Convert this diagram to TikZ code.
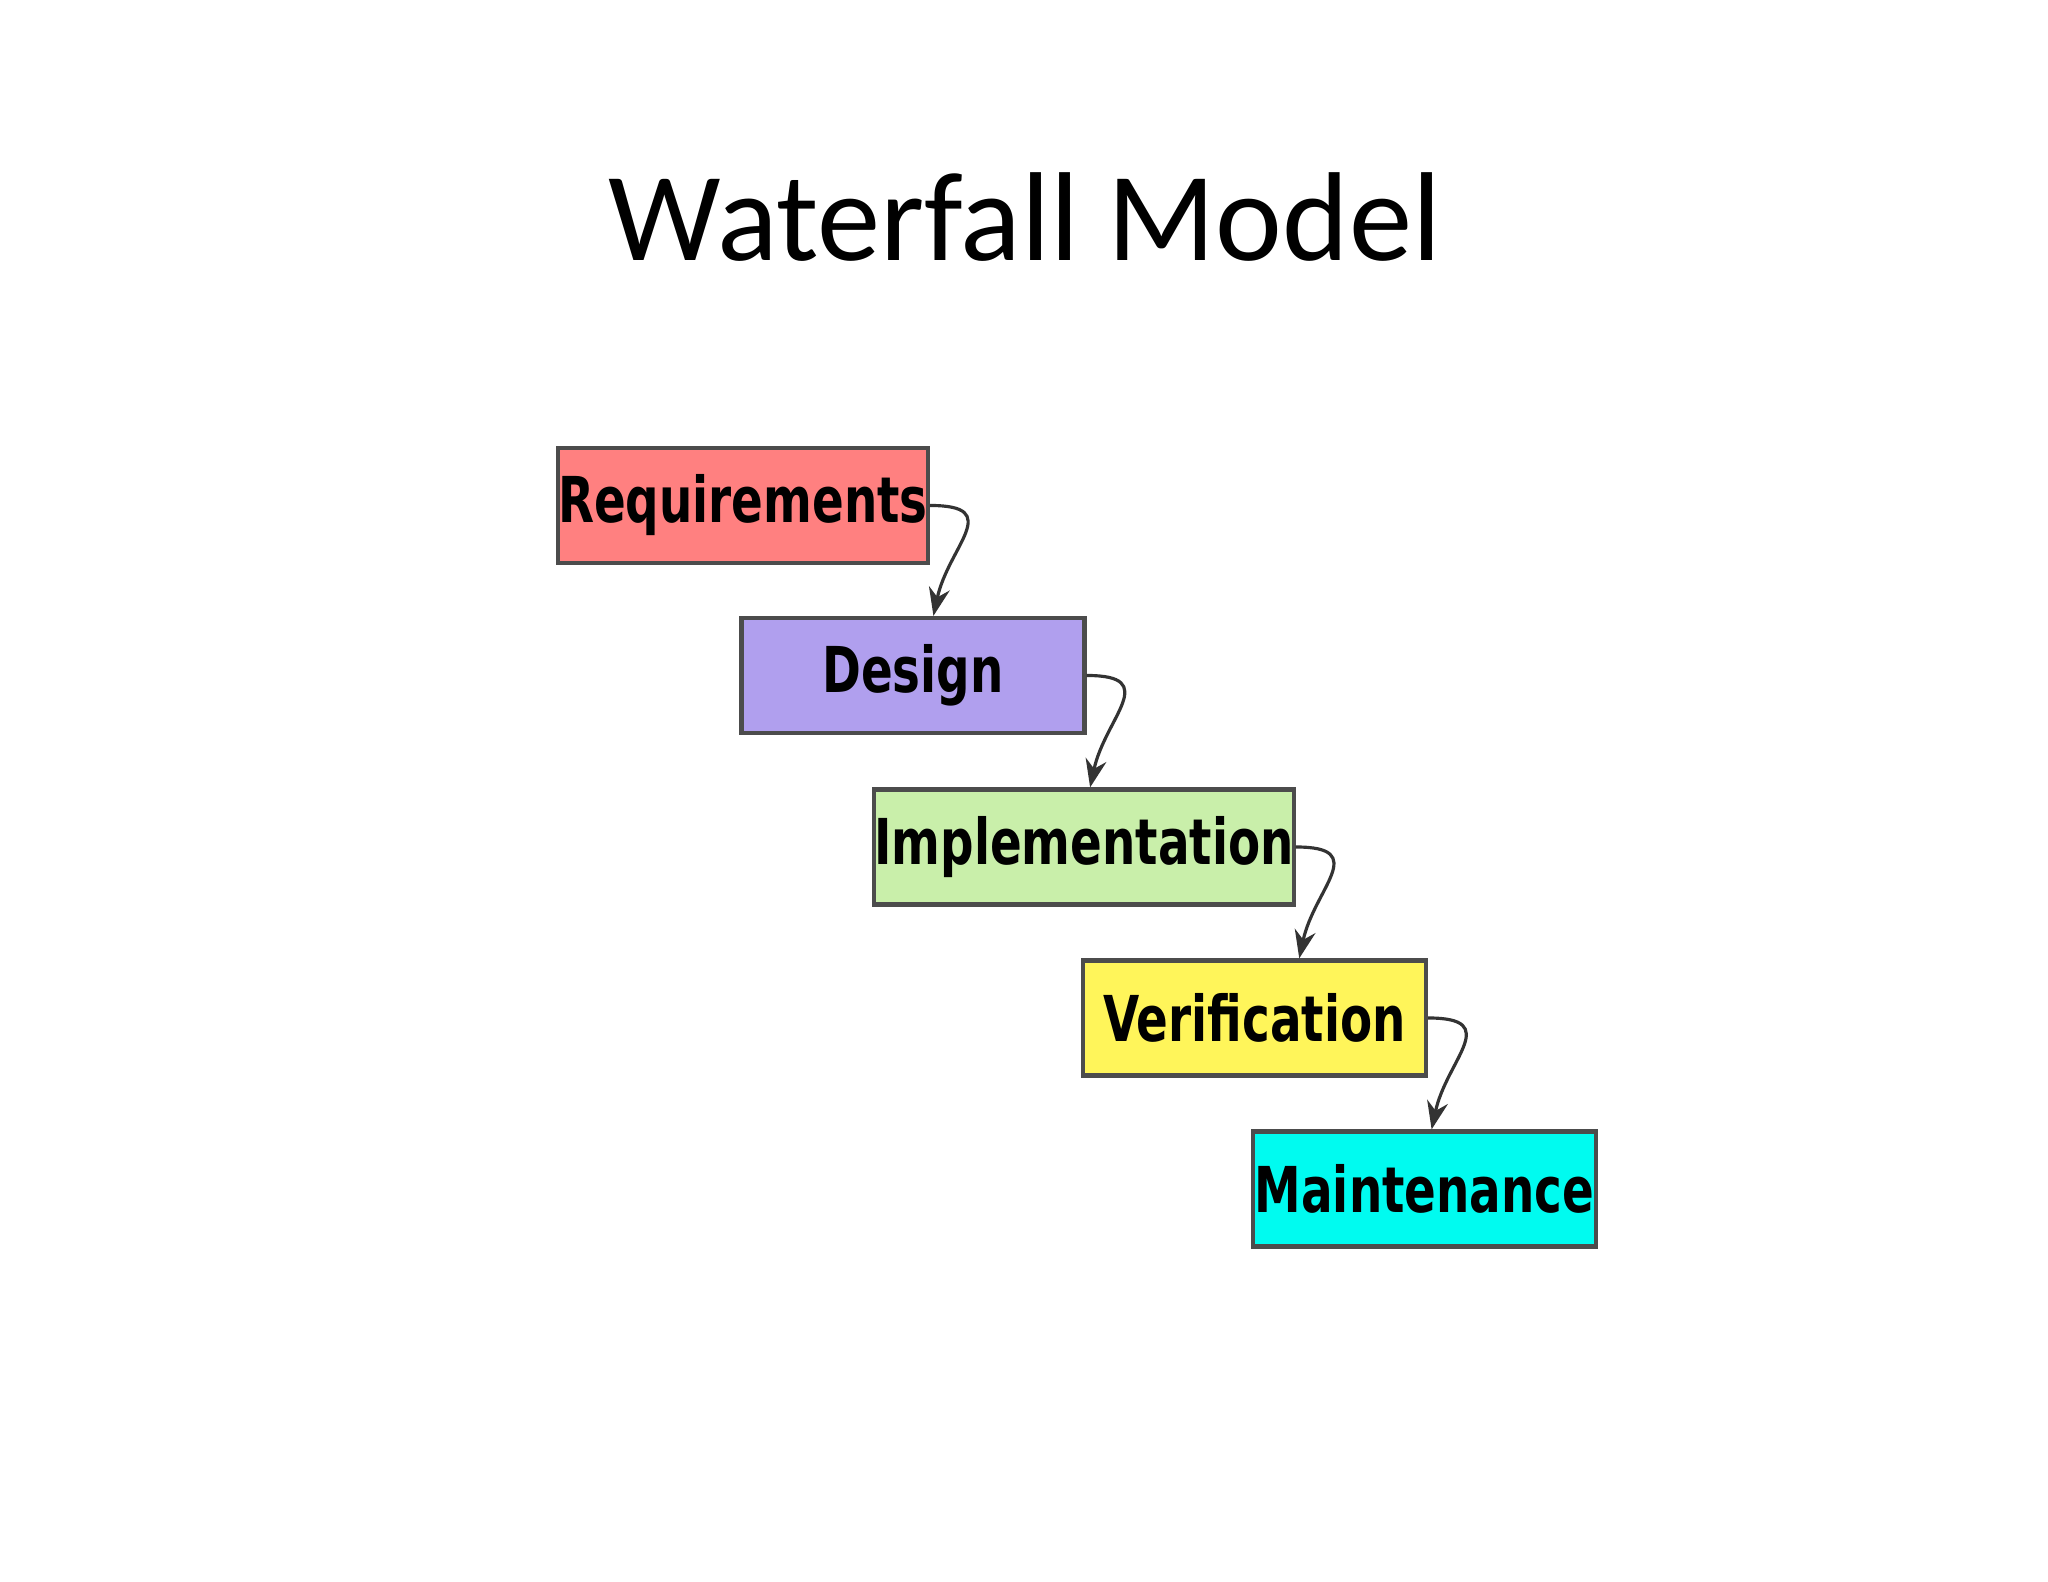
\documentclass[tikz,border=0pt]{standalone}
\usepackage{fontspec}
\usepackage{graphicx}
\setmainfont{Carlito}
\newfontfamily\boxfont{DejaVu Sans}
\usetikzlibrary{arrows.meta}
\definecolor{cReq}{HTML}{FF8080}
\definecolor{cDes}{HTML}{B09FEE}
\definecolor{cImp}{HTML}{C9EFAA}
\definecolor{cVer}{HTML}{FFF55A}
\definecolor{cMai}{HTML}{00FBF0}
\newcommand{\narrowtxt}[1]{\scalebox{0.74}[1]{#1}}
\tikzset{
  phase/.style={draw=black!70, line width=1.2pt, minimum width=3.43cm, minimum height=1.15cm,
    inner sep=0pt, font=\boxfont\bfseries\fontsize{18}{22}\selectfont},
  flow/.style={-{Stealth[length=8pt,width=6pt]}, line width=0.9pt, black!80}
}
\begin{document}
\begin{tikzpicture}
\useasboundingbox (0,0) rectangle (20.48,15.82);
\fill[white] (0,0) rectangle (20.48,15.82);
\node (title) at (10.25,13.65) {\fontsize{36}{42}\selectfont Waterfall Model};
\node[phase, fill=cReq] (req) at (7.43,10.765) {\narrowtxt{Requirements}};
\node[phase, fill=cDes] (des) at (9.13,9.065) {\narrowtxt{Design}};
\node[phase, fill=cImp] (imp) at (10.84,7.35) {\narrowtxt{Implementation}};
\node[phase, fill=cVer] (ver) at (12.545,5.64) {\narrowtxt{Verification}};
\node[phase, fill=cMai] (mai) at (14.245,3.93) {\narrowtxt{Maintenance}};
\foreach \a/\b in {req/des, des/imp, imp/ver, ver/mai}{
  \draw[flow] (\a.east) .. controls +(0.75,0) and +(0.15,0.7) .. ([xshift=1pt]\b.north -| \a.east);
}
\end{tikzpicture}
\end{document}
